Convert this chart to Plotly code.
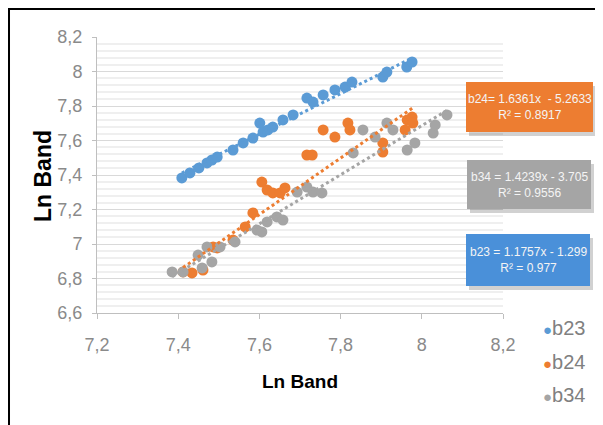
import numpy as np
import plotly.graph_objects as go

series_names = ["b23", "b24", "b34"]
series_colors = ["#5B9BD5", "#ED7D31", "#A5A5A5"]

b23_x = [7.409, 7.429, 7.451, 7.471, 7.483, 7.496, 7.535, 7.560, 7.584, 7.601, 7.609, 7.621,
         7.633, 7.658, 7.683, 7.717, 7.732, 7.757, 7.786, 7.811, 7.828, 7.904, 7.914, 7.963, 7.976]
b23_y = [7.383, 7.412, 7.441, 7.470, 7.487, 7.504, 7.545, 7.586, 7.614, 7.701, 7.649, 7.661,
         7.678, 7.719, 7.748, 7.846, 7.823, 7.864, 7.893, 7.910, 7.939, 7.968, 7.997, 8.026, 8.055]

b24_x = [7.412, 7.434, 7.461, 7.486, 7.496, 7.535, 7.565, 7.584, 7.606, 7.619, 7.633, 7.651,
         7.663, 7.717, 7.730, 7.757, 7.786, 7.818, 7.823, 7.904, 7.904, 7.959, 7.964, 7.976, 7.978]
b24_y = [6.838, 6.832, 6.849, 6.983, 6.977, 7.023, 7.099, 7.180, 7.359, 7.313, 7.296, 7.296,
         7.325, 7.516, 7.516, 7.661, 7.620, 7.701, 7.661, 7.586, 7.533, 7.661, 7.719, 7.736, 7.701]

b34_x = [7.385, 7.412, 7.449, 7.459, 7.471, 7.483, 7.503, 7.540, 7.594, 7.606, 7.619, 7.643,
         7.658, 7.693, 7.717, 7.732, 7.754, 7.831, 7.855, 7.885, 7.914, 7.929, 7.964, 7.983,
         8.028, 8.033, 8.062]
b34_y = [6.838, 6.838, 6.936, 6.861, 6.983, 6.896, 6.983, 7.012, 7.081, 7.070, 7.128, 7.157,
         7.139, 7.301, 7.330, 7.301, 7.296, 7.528, 7.661, 7.620, 7.701, 7.661, 7.545, 7.586,
         7.643, 7.690, 7.748]

# trendline coefficients as printed on the chart
slopes = [1.1757, 1.6361, 1.4239]
intercepts = [-1.299, -5.2633, -3.705]
eq_labels = ["b23 = 1.1757x - 1.299<br>R² = 0.977",
             "b24= 1.6361x  - 5.2633<br>R² = 0.8917",
             "b34 = 1.4239x - 3.705<br>R² = 0.9556"]
axis_title = "Ln Band"

xs = [b23_x, b24_x, b34_x]
ys = [b23_y, b24_y, b34_y]

fig = go.Figure()

for i in range(3):
    fig.add_trace(go.Scatter(
        x=xs[i], y=ys[i], mode="markers", name=series_names[i],
        marker=dict(color=series_colors[i], size=11, line=dict(width=0)),
    ))

for i in range(3):
    x0, x1 = min(xs[i]), max(xs[i])
    tx = np.array([x0, x1])
    fig.add_trace(go.Scatter(
        x=tx, y=slopes[i] * tx + intercepts[i], mode="lines", showlegend=False,
        line=dict(color=series_colors[i], width=3, dash="dot"), hoverinfo="skip",
    ))

narrow = "Liberation Sans Narrow, Arial Narrow, Liberation Sans, sans-serif"
tick_font = dict(family=narrow, size=18, color="#8a8a8a")

# the page body adds an 8px offset, so the figure is 8px smaller than the window
fig.update_layout(
    width=595, height=417,
    margin=dict(l=89, r=100, t=29, b=112, autoexpand=False),
    paper_bgcolor="white", plot_bgcolor="white",
    separators=", ",
    showlegend=False,
    xaxis=dict(range=[7.2, 8.2], dtick=0.2, tick0=7.2, showgrid=False, zeroline=False,
               showline=True, linecolor="#bfbfbf", linewidth=1, automargin=False,
               ticks="outside", ticklen=5, tickcolor="#bfbfbf", ticklabelstandoff=10,
               tickfont=tick_font, tickformat=".1~f"),
    yaxis=dict(range=[6.6, 8.2], dtick=0.2, tick0=6.6, showgrid=True, gridcolor="#d9d9d9",
               gridwidth=1, zeroline=False, automargin=False,
               showline=True, linecolor="#bfbfbf", linewidth=1,
               ticks="outside", ticklen=4, tickcolor="#bfbfbf", ticklabelstandoff=6,
               tickfont=tick_font, tickformat=".1~f",
               minor=dict(dtick=0.04, showgrid=True, gridcolor="#efefef", gridwidth=2)),
)

# outer frame lines (top and left)
fig.add_shape(type="line", xref="paper", yref="paper", x0=-0.2192, x1=1.3, y0=1.105, y1=1.105,
              line=dict(color="black", width=4))
fig.add_shape(type="line", xref="paper", yref="paper", x0=-0.2192, x1=-0.2192, y0=1.105, y1=-0.5,
              line=dict(color="black", width=4))

def px2paper(px, py):
    return (px - 97) / 406, (313 - py) / 276

# axis titles
tx, ty = px2paper(300, 381)
fig.add_annotation(x=tx, y=ty, xref="paper", yref="paper", text="<b>" + axis_title + "</b>",
                   showarrow=False, xanchor="center", yanchor="middle",
                   font=dict(family="Liberation Sans, Arial, sans-serif", size=19, color="black"))
tx, ty = px2paper(43, 176)
fig.add_annotation(x=tx, y=ty, xref="paper", yref="paper", text="<b>" + axis_title + "</b>",
                   showarrow=False, xanchor="center", yanchor="middle", textangle=-90,
                   font=dict(family="Liberation Sans, Arial, sans-serif", size=23, color="black"))

# legend drawn as text items
legend_y = [328, 362, 395]
for i in range(3):
    lx, ly = px2paper(541, legend_y[i])
    fig.add_annotation(x=lx, y=ly, xref="paper", yref="paper",
                       text="<span style='color:%s;font-size:15px'>●</span>%s" % (series_colors[i], series_names[i]),
                       showarrow=False, xanchor="left", yanchor="middle",
                       font=dict(family=narrow, size=20, color="#808080"))

boxes = [  # (label index, color, left, top, right, bottom) in pixels
    (1, "#ED7D31", 466, 82, 593, 132),
    (2, "#A5A5A5", 467, 160, 591, 209),
    (0, "#4A90D9", 466, 234, 590, 286),
]
for idx, col, l, t, r, b in boxes:
    x0, y0 = px2paper(l + 3, b + 4)
    x1, y1 = px2paper(r + 3, t + 4)
    fig.add_shape(type="rect", xref="paper", yref="paper", x0=x0, x1=x1, y0=y0, y1=y1,
                  fillcolor="rgba(0,0,0,0.18)", line=dict(width=0), layer="above")
    x0, y0 = px2paper(l, b)
    x1, y1 = px2paper(r, t)
    fig.add_shape(type="rect", xref="paper", yref="paper", x0=x0, x1=x1, y0=y0, y1=y1,
                  fillcolor=col, line=dict(width=0), layer="above")
    cx, cy = px2paper((l + r) / 2, (t + b) / 2)
    fig.add_annotation(x=cx, y=cy, xref="paper", yref="paper", text=eq_labels[idx],
                       showarrow=False, xanchor="center", yanchor="middle",
                       font=dict(family=narrow, size=12, color="#f4f4f4"))

fig.write_html("out.html")
